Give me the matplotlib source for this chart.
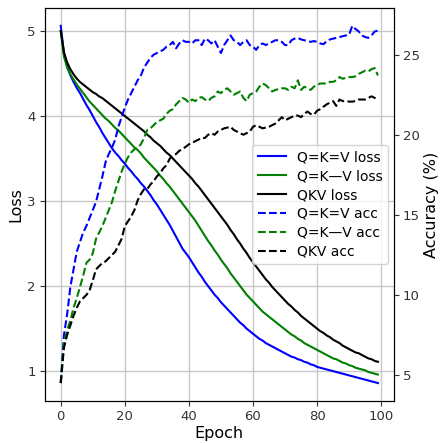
import matplotlib
matplotlib.use('Agg')
import matplotlib.pyplot as plt

# epochs 0..99
epochs = list(range(100))

# training loss per epoch
loss_qkv_same = [5.06, 4.74, 4.58, 4.48, 4.40, 4.33, 4.27, 4.20, 4.13, 4.07,
                 4.00, 3.93, 3.87, 3.80, 3.74, 3.68, 3.62, 3.57, 3.53, 3.48,
                 3.44, 3.39, 3.35, 3.30, 3.26, 3.21, 3.17, 3.12, 3.07, 3.01,
                 2.96, 2.90, 2.84, 2.78, 2.72, 2.65, 2.58, 2.51, 2.44, 2.39,
                 2.34, 2.28, 2.22, 2.16, 2.11, 2.05, 2.00, 1.95, 1.90, 1.86,
                 1.81, 1.77, 1.73, 1.69, 1.65, 1.61, 1.57, 1.54, 1.50, 1.47,
                 1.44, 1.41, 1.38, 1.36, 1.33, 1.31, 1.29, 1.27, 1.25, 1.23,
                 1.21, 1.19, 1.17, 1.16, 1.14, 1.13, 1.11, 1.10, 1.08, 1.07,
                 1.05, 1.04, 1.03, 1.02, 1.01, 1.00, 0.99, 0.98, 0.97, 0.96,
                 0.95, 0.94, 0.93, 0.92, 0.91, 0.90, 0.89, 0.88, 0.87, 0.86]
loss_qk_v = [5.00, 4.70, 4.57, 4.49, 4.43, 4.37, 4.32, 4.27, 4.22, 4.17,
             4.13, 4.09, 4.05, 4.01, 3.97, 3.94, 3.90, 3.86, 3.83, 3.79,
             3.75, 3.71, 3.67, 3.63, 3.60, 3.56, 3.51, 3.47, 3.43, 3.39,
             3.35, 3.30, 3.26, 3.21, 3.17, 3.12, 3.07, 3.02, 2.97, 2.92,
             2.87, 2.82, 2.77, 2.71, 2.65, 2.59, 2.53, 2.48, 2.42, 2.37,
             2.31, 2.26, 2.21, 2.15, 2.10, 2.05, 2.00, 1.95, 1.90, 1.86,
             1.82, 1.78, 1.74, 1.70, 1.67, 1.64, 1.61, 1.58, 1.55, 1.52,
             1.49, 1.46, 1.43, 1.41, 1.38, 1.36, 1.33, 1.31, 1.29, 1.27,
             1.25, 1.23, 1.21, 1.19, 1.17, 1.15, 1.14, 1.12, 1.10, 1.09,
             1.07, 1.06, 1.04, 1.03, 1.02, 1.01, 0.99, 0.98, 0.97, 0.96]
loss_qkv = [5.00, 4.75, 4.63, 4.55, 4.49, 4.44, 4.40, 4.37, 4.34, 4.31,
            4.28, 4.26, 4.23, 4.21, 4.18, 4.15, 4.12, 4.09, 4.06, 4.03,
            4.00, 3.97, 3.94, 3.91, 3.88, 3.85, 3.82, 3.78, 3.75, 3.71,
            3.68, 3.65, 3.61, 3.57, 3.54, 3.50, 3.46, 3.42, 3.38, 3.34,
            3.30, 3.26, 3.21, 3.17, 3.12, 3.07, 3.02, 2.97, 2.92, 2.87,
            2.82, 2.77, 2.72, 2.66, 2.61, 2.55, 2.50, 2.44, 2.39, 2.33,
            2.28, 2.23, 2.18, 2.13, 2.08, 2.04, 1.99, 1.95, 1.91, 1.87,
            1.83, 1.79, 1.76, 1.72, 1.69, 1.65, 1.62, 1.59, 1.56, 1.53,
            1.50, 1.47, 1.45, 1.42, 1.40, 1.37, 1.35, 1.33, 1.30, 1.28,
            1.26, 1.24, 1.22, 1.21, 1.19, 1.17, 1.15, 1.14, 1.12, 1.11]

# accuracy (%) per epoch
acc_qkv_same = [4.5, 7.5, 8.8, 10.5, 11.6, 12.7, 13.3, 13.9, 14.3, 14.8,
                15.3, 15.8, 16.6, 17.4, 18.3, 18.8, 19.2, 19.7, 20.5, 21.1,
                21.7, 22.2, 22.6, 23.0, 23.4, 23.7, 24.2, 24.5, 24.8, 25.0,
                25.1, 25.2, 25.3, 25.5, 25.6, 25.8, 25.4, 25.7, 25.9, 25.8,
                25.8, 25.7, 25.9, 25.9, 25.6, 26.0, 25.9, 25.7, 25.9, 25.5,
                25.1, 25.6, 25.9, 26.2, 25.9, 25.8, 25.6, 25.8, 25.9, 25.6,
                25.5, 25.3, 25.6, 25.7, 25.6, 25.7, 25.8, 25.9, 25.9, 25.8,
                25.6, 25.6, 25.9, 26.0, 26.05, 25.95, 25.9, 25.85, 25.8, 25.85,
                25.8, 25.7, 25.65, 25.85, 25.95, 26.0, 26.05, 26.1, 26.15, 26.2,
                26.25, 26.8, 26.6, 26.45, 26.2, 26.1, 26.05, 26.2, 26.45, 26.5]
acc_qk_v = [4.5, 7.0, 7.8, 8.4, 9.2, 9.8, 10.5, 11.2, 12.0, 12.2,
            12.6, 13.5, 13.9, 14.3, 14.8, 15.3, 15.8, 16.5, 17.1, 17.7,
            18.2, 18.6, 18.9, 19.1, 19.2, 19.4, 19.8, 20.3, 20.4, 20.6,
            20.8, 20.9, 21.0, 21.3, 21.5, 21.6, 21.9, 22.1, 22.3, 22.2,
            22.0, 22.2, 22.1, 22.3, 22.35, 22.2, 22.1, 22.3, 22.4, 22.7,
            22.6, 22.8, 22.9, 22.7, 22.5, 22.6, 22.7, 22.3, 22.1, 22.5,
            22.6, 22.7, 23.0, 23.2, 23.1, 22.9, 22.7, 22.8, 22.85, 22.9,
            22.9, 22.8, 23.0, 22.9, 23.4, 22.8, 23.0, 22.9, 22.8, 23.0,
            23.1, 23.2, 23.2, 23.2, 23.3, 23.3, 23.4, 23.6, 23.5, 23.55,
            23.6, 23.6, 23.65, 23.8, 23.9, 24.0, 23.95, 24.1, 24.16, 23.7]
acc_qkv = [4.5, 6.7, 7.5, 8.1, 8.7, 9.2, 9.6, 9.8, 10.0, 10.3,
           10.9, 11.6, 11.8, 12.0, 12.1, 12.3, 12.5, 12.7, 13.1, 13.5,
           14.3, 14.6, 14.9, 15.3, 15.9, 16.3, 16.6, 16.6, 16.9, 17.1,
           17.4, 17.6, 17.9, 18.1, 18.5, 18.7, 18.8, 19.0, 19.1, 19.25,
           19.4, 19.5, 19.6, 19.7, 19.8, 19.8, 20.0, 20.1, 20.0, 20.2,
           20.3, 20.4, 20.45, 20.5, 20.3, 20.2, 20.1, 20.0, 20.1, 20.2,
           20.5, 20.6, 20.5, 20.4, 20.45, 20.5, 20.6, 20.7, 20.9, 21.1,
           20.9, 21.0, 21.1, 21.2, 21.2, 21.1, 21.3, 21.45, 21.3, 21.25,
           21.5, 21.6, 21.75, 21.9, 22.0, 22.1, 21.8, 22.2, 22.1, 22.1,
           22.07, 22.07, 22.1, 22.2, 22.2, 22.2, 22.3, 22.4, 22.3, 22.2]

labels = ['Q=K=V loss', 'Q=K\u2014V loss', 'QKV loss',
          'Q=K=V acc', 'Q=K\u2014V acc', 'QKV acc']

fig, ax1 = plt.subplots(figsize=(4.4, 4.43), dpi=100)
fig.subplots_adjust(left=0.102, right=0.895, bottom=0.095, top=0.982)

l1, = ax1.plot(epochs, loss_qkv_same, color='blue', lw=1.5)
l2, = ax1.plot(epochs, loss_qk_v, color='green', lw=1.5)
l3, = ax1.plot(epochs, loss_qkv, color='black', lw=1.5)
ax1.set_xlabel('Epoch', fontsize=11.5, labelpad=2)
ax1.set_ylabel('Loss', fontsize=11.5, labelpad=3)
ax1.grid(True, color='#c8c8c8', lw=1.0)
ax1.tick_params(labelsize=9.5, colors='#333333', pad=3)

ax2 = ax1.twinx()
l4, = ax2.plot(epochs, acc_qkv_same, color='blue', ls='--', lw=1.5)
l5, = ax2.plot(epochs, acc_qk_v, color='green', ls='--', lw=1.5)
l6, = ax2.plot(epochs, acc_qkv, color='black', ls='--', lw=1.5)
ax2.set_ylabel('Accuracy (%)', fontsize=11.5, labelpad=3)
ax2.tick_params(labelsize=9.5, colors='#333333', pad=3)

ax2.legend([l1, l2, l3, l4, l5, l6], labels, loc='center right',
           fontsize=10, labelspacing=0.35, borderaxespad=0.4)

plt.savefig('out.png', dpi=100)
